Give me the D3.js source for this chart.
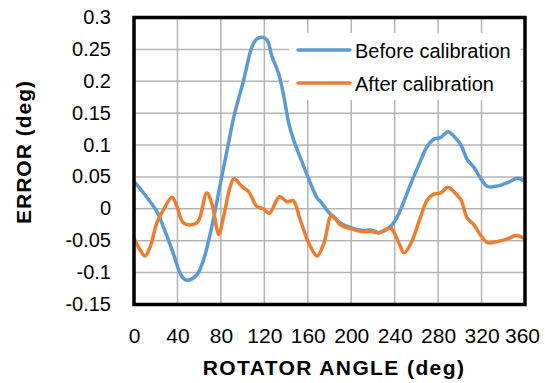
<!DOCTYPE html>
<html>
<head>
<meta charset="utf-8">
<script src="https://cdn.jsdelivr.net/npm/d3@7/dist/d3.min.js"></script>
<style>
  html, body { margin: 0; padding: 0; background: #fff; }
  svg { display: block; font-family: "Liberation Sans", Arial, sans-serif; }
</style>
</head>
<body>
<svg id="chart" width="545" height="383"></svg>
<script>
// Rotator angle (deg) and pointing error (deg), before calibration
const beforeAngles = [0, 10, 21, 27, 36, 44, 49, 58, 64, 72, 79, 87, 92, 101, 108.6, 113, 118, 122.5, 127, 133, 138, 142.5, 147, 155, 162.5, 168.6, 172, 180, 190, 199, 211.7, 218, 225.5, 236, 242.5, 255, 264, 270, 276, 282.5, 289, 295, 301, 307, 313, 319, 325.5, 335, 344, 353, 360];
const beforeErrors = [0.043, 0.022, -0.004, -0.028, -0.069, -0.106, -0.112, -0.103, -0.08, -0.025, 0.035, 0.103, 0.145, 0.202, 0.254, 0.266, 0.269, 0.265, 0.239, 0.213, 0.176, 0.134, 0.108, 0.072, 0.040, 0.017, 0.011, -0.007, -0.022, -0.029, -0.034, -0.033, -0.037, -0.028, -0.012, 0.040, 0.076, 0.098, 0.109, 0.112, 0.121, 0.113, 0.100, 0.077, 0.065, 0.048, 0.035, 0.036, 0.041, 0.048, 0.043];

// Rotator angle (deg) and pointing error (deg), after calibration
const afterAngles = [0, 5.5, 10, 15, 21, 27, 35, 39.4, 45.5, 53, 59, 67, 72, 78, 82.5, 88.6, 92, 99.4, 105.5, 113, 119, 124.6, 134, 141, 146.5, 153, 161, 168.6, 174.8, 182, 190, 199, 211.7, 218, 225.5, 236, 244, 248.6, 255, 264, 270, 276, 282.5, 289, 295, 301, 307, 313, 319, 325.5, 335, 344, 351.7, 360];
const afterErrors = [-0.046, -0.064, -0.074, -0.059, -0.022, -0.002, 0.018, 0.004, -0.022, -0.025, -0.020, 0.025, 0.006, -0.040, -0.012, 0.035, 0.047, 0.035, 0.027, 0.004, 0.000, -0.007, 0.019, 0.011, 0.013, -0.017, -0.054, -0.074, -0.054, -0.010, -0.025, -0.031, -0.036, -0.035, -0.038, -0.030, -0.054, -0.069, -0.054, -0.012, 0.014, 0.023, 0.025, 0.034, 0.026, 0.014, -0.015, -0.025, -0.041, -0.053, -0.051, -0.047, -0.042, -0.047];

const xTicks = [0, 40, 80, 120, 160, 200, 240, 280, 320, 360];
const yTicks = [-0.15, -0.1, -0.05, 0, 0.05, 0.1, 0.15, 0.2, 0.25, 0.3];
const yTickLabels = ["-0.15", "-0.1", "-0.05", "0", "0.05", "0.1", "0.15", "0.2", "0.25", "0.3"];
const seriesNames = ["Before calibration", "After calibration"];
const seriesColors = ["#5B9BD5", "#ED7D31"];

const svg = d3.select("#chart");
const plotLeft = 134, plotRight = 525, plotTop = 17.5, plotBottom = 304.5;

const x = d3.scaleLinear().domain([0, 360]).range([plotLeft, plotRight]);
const y = d3.scaleLinear().domain([-0.15, 0.3]).range([plotBottom, plotTop]);

// grid
const grid = svg.append("g");
grid.selectAll("line.v").data(xTicks).join("line").attr("class", "v")
  .attr("x1", d => x(d)).attr("x2", d => x(d))
  .attr("y1", plotTop).attr("y2", plotBottom)
  .attr("stroke", "#b4b4b4").attr("stroke-width", 1.5);
grid.selectAll("line.h").data(yTicks).join("line").attr("class", "h")
  .attr("x1", plotLeft).attr("x2", plotRight)
  .attr("y1", d => y(d)).attr("y2", d => y(d))
  .attr("stroke", "#b4b4b4").attr("stroke-width", 1.5);

// tick labels via axes (no domain / tick lines)
const xAxis = svg.append("g").attr("transform", `translate(0,${plotBottom})`)
  .call(d3.axisBottom(x).tickValues(xTicks).tickSize(0).tickPadding(0).tickFormat(d3.format("d")));
xAxis.select(".domain").remove();
xAxis.selectAll("text").attr("dy", null).attr("y", 38.5)
  .attr("font-size", 21).attr("fill", "#000").attr("font-family", "Liberation Sans, Arial, sans-serif");
// the last label sits slightly inside the right edge
xAxis.selectAll(".tick").filter(d => d === 360).select("text").attr("x", -3);

const yAxis = svg.append("g").attr("transform", `translate(${plotLeft},0)`)
  .call(d3.axisLeft(y).tickValues(yTicks).tickSize(0).tickPadding(0)
    .tickFormat((d, i) => yTickLabels[i]));
yAxis.select(".domain").remove();
yAxis.selectAll("text").attr("x", -23).attr("dy", "0.3em")
  .attr("font-size", 20).attr("fill", "#000").attr("font-family", "Liberation Sans, Arial, sans-serif");

// series
const line = d3.line().curve(d3.curveCatmullRom.alpha(0.5))
  .x(d => x(d[0])).y(d => y(d[1]));
const seriesData = [
  d3.zip(beforeAngles, beforeErrors),
  d3.zip(afterAngles, afterErrors)
];
svg.append("g").selectAll("path").data(seriesData).join("path")
  .attr("d", line)
  .attr("fill", "none")
  .attr("stroke", (d, i) => seriesColors[i])
  .attr("stroke-width", 3.5)
  .attr("stroke-linejoin", "round")
  .attr("stroke-linecap", "round");

// plot frame
svg.append("rect")
  .attr("x", plotLeft).attr("y", plotTop)
  .attr("width", plotRight - plotLeft).attr("height", plotBottom - plotTop)
  .attr("fill", "none").attr("stroke", "#000").attr("stroke-width", 3.5);

// legend
const legend = svg.append("g");
legend.append("rect").attr("x", 289).attr("y", 33).attr("width", 232).attr("height", 67).attr("fill", "#fff");
const items = legend.selectAll("g.item").data(seriesNames).join("g").attr("class", "item")
  .attr("transform", (d, i) => `translate(0,${50 + i * 33})`);
items.append("line").attr("x1", 298).attr("x2", 350).attr("y1", 0).attr("y2", 0)
  .attr("stroke", (d, i) => seriesColors[i]).attr("stroke-width", 3.5).attr("stroke-linecap", "round");
items.append("text").attr("x", 355).attr("y", 7.5).attr("font-size", 20).attr("fill", "#000")
  .text(d => d);

// axis titles
svg.append("text").attr("x", 334).attr("y", 375).attr("text-anchor", "middle")
  .attr("font-size", 21).attr("font-weight", "bold").attr("letter-spacing", 1.4)
  .text("ROTATOR ANGLE (deg)");
svg.append("text").attr("transform", "translate(31,152) rotate(-90)").attr("text-anchor", "middle")
  .attr("font-size", 21).attr("font-weight", "bold").attr("letter-spacing", 1)
  .text("ERROR (deg)");
</script>
</body>
</html>
